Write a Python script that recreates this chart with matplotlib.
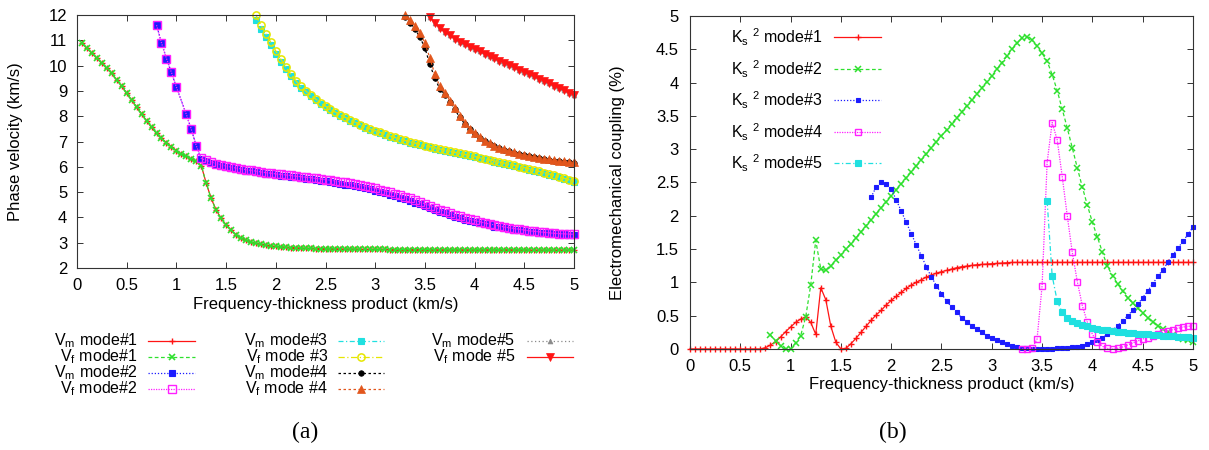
import matplotlib as mpl

mpl.use("Agg")
import matplotlib.pyplot as plt
import numpy as np

# frequency-thickness grid (km/s), sampled every 0.05
FH_STEP = 0.05
FH_TICKS = [0, 0.5, 1, 1.5, 2, 2.5, 3, 3.5, 4, 4.5, 5]
FH_TICK_LABELS = ["0", "0.5", "1", "1.5", "2", "2.5", "3", "3.5", "4", "4.5", "5"]
V_TICKS = [2, 3, 4, 5, 6, 7, 8, 9, 10, 11, 12]
K_TICKS = [0, 0.5, 1, 1.5, 2, 2.5, 3, 3.5, 4, 4.5, 5]
K_TICK_LABELS = ["0", "0.5", "1", "1.5", "2", "2.5", "3", "3.5", "4", "4.5", "5"]

# ---- panel (a): phase velocities (km/s) ----
vm_mode1_start = 0.05
vm_mode1 = [10.88, 10.68, 10.49, 10.29, 10.09, 9.89, 9.69, 9.43, 9.19, 8.90,
            8.64, 8.35, 8.09, 7.82, 7.56, 7.32, 7.12, 6.95, 6.79, 6.64,
            6.50, 6.41, 6.30, 6.21, 6.05, 5.35, 4.75, 4.29, 3.96, 3.70,
            3.50, 3.31, 3.18, 3.09, 3.02, 2.97, 2.93, 2.90, 2.87, 2.85,
            2.84, 2.82, 2.81, 2.80, 2.79, 2.78, 2.78, 2.77, 2.77, 2.76,
            2.76, 2.76, 2.75, 2.75, 2.75, 2.75, 2.74, 2.74, 2.74, 2.74,
            2.74, 2.74, 2.73, 2.73, 2.73, 2.73, 2.73, 2.73, 2.73, 2.73,
            2.73, 2.72, 2.72, 2.72, 2.72, 2.72, 2.72, 2.72, 2.72, 2.72,
            2.72, 2.72, 2.72, 2.72, 2.72, 2.72, 2.72, 2.72, 2.72, 2.72,
            2.71, 2.71, 2.71, 2.71, 2.71, 2.71, 2.71, 2.71, 2.71, 2.71]
vf_mode1_start = 0.05
vf_mode1 = [10.88, 10.68, 10.49, 10.29, 10.09, 9.89, 9.69, 9.43, 9.19, 8.90,
            8.64, 8.35, 8.09, 7.82, 7.56, 7.32, 7.12, 6.95, 6.79, 6.64,
            6.50, 6.41, 6.30, 6.21, 6.05, 5.35, 4.75, 4.29, 3.96, 3.70,
            3.50, 3.31, 3.18, 3.09, 3.02, 2.97, 2.93, 2.90, 2.87, 2.85,
            2.84, 2.82, 2.81, 2.80, 2.79, 2.78, 2.78, 2.77, 2.77, 2.76,
            2.76, 2.76, 2.75, 2.75, 2.75, 2.75, 2.74, 2.74, 2.74, 2.74,
            2.74, 2.74, 2.73, 2.73, 2.73, 2.73, 2.73, 2.73, 2.73, 2.73,
            2.73, 2.72, 2.72, 2.72, 2.72, 2.72, 2.72, 2.72, 2.72, 2.72,
            2.72, 2.72, 2.72, 2.72, 2.72, 2.72, 2.72, 2.72, 2.72, 2.72,
            2.71, 2.71, 2.71, 2.71, 2.71, 2.71, 2.71, 2.71, 2.71, 2.71]
vm_mode2_start = 0.80
vm_mode2 = [11.60, 10.90, 10.28, 9.73, 9.15, np.nan, 8.07, 7.48, 6.83,
            6.30, 6.22, 6.16, 6.10, 6.05, 6.00, 5.96, 5.92, 5.88, 5.85,
            5.82, 5.79, 5.76, 5.73, 5.70, 5.68,
            5.65, 5.63, 5.60, 5.58, 5.55, 5.53, 5.50, 5.48, 5.45, 5.42,
            5.39, 5.36, 5.33, 5.30, 5.27, 5.23, 5.19, 5.15, 5.11, 5.06,
            5.01, 4.96, 4.90, 4.84, 4.78, 4.72, 4.65, 4.58, 4.51, 4.44,
            4.37, 4.30, 4.23, 4.16, 4.09, 4.03, 3.97, 3.91, 3.86, 3.81,
            3.76, 3.72, 3.68, 3.64, 3.61, 3.57, 3.54, 3.51, 3.49, 3.46,
            3.44, 3.42, 3.40, 3.38, 3.37, 3.35, 3.34, 3.33, 3.32, 3.31]
vf_mode2_start = 0.80
vf_mode2 = [11.60, 10.90, 10.28, 9.73, 9.15, np.nan, 8.07, 7.48, 6.83,
            6.33, 6.25, 6.19, 6.13, 6.08, 6.03, 5.99, 5.95, 5.92, 5.89,
            5.86, 5.83, 5.80, 5.77, 5.75, 5.72,
            5.70, 5.68, 5.66, 5.63, 5.61, 5.59, 5.57, 5.54, 5.52, 5.49,
            5.47, 5.44, 5.41, 5.38, 5.35, 5.32, 5.28, 5.24, 5.20, 5.15,
            5.10, 5.05, 5.00, 4.94, 4.88, 4.82, 4.75, 4.68, 4.61, 4.54,
            4.47, 4.39, 4.31, 4.24, 4.17, 4.10, 4.04, 3.98, 3.93, 3.88,
            3.83, 3.78, 3.74, 3.70, 3.66, 3.62, 3.59, 3.56, 3.53, 3.50,
            3.47, 3.45, 3.43, 3.41, 3.39, 3.37, 3.36, 3.35, 3.34, 3.33]
vm_mode3_start = 1.80
vm_mode3 = [11.80, 11.45, 11.12, 10.80, 10.45,
            10.15, 9.85, 9.58, 9.33, 9.12, 8.94, 8.78, 8.63, 8.49, 8.36,
            8.24, 8.12, 8.02, 7.92, 7.82, 7.73, 7.64, 7.55, 7.47, 7.40,
            7.33, 7.26, 7.19, 7.13, 7.07, 7.02, 6.96, 6.91, 6.86, 6.82,
            6.77, 6.72, 6.68, 6.63, 6.59, 6.54, 6.50, 6.46, 6.42, 6.38,
            6.33, 6.29, 6.25, 6.20, 6.16, 6.12, 6.07, 6.03, 5.98, 5.94,
            5.89, 5.84, 5.79, 5.74, 5.69, 5.63, 5.58, 5.52, 5.46, 5.40]
vf_mode3_start = 1.80
vf_mode3 = [12.00, 11.60, 11.25, 10.92, 10.58,
            10.26, 9.95, 9.67, 9.41, 9.19, 9.00, 8.83, 8.68, 8.53, 8.40,
            8.28, 8.16, 8.05, 7.95, 7.85, 7.76, 7.67, 7.58, 7.50, 7.43,
            7.36, 7.29, 7.22, 7.16, 7.10, 7.04, 6.99, 6.94, 6.89, 6.84,
            6.80, 6.75, 6.71, 6.66, 6.62, 6.57, 6.53, 6.49, 6.45, 6.41,
            6.36, 6.32, 6.28, 6.23, 6.19, 6.15, 6.10, 6.06, 6.01, 5.97,
            5.92, 5.87, 5.82, 5.77, 5.72, 5.66, 5.61, 5.55, 5.49, 5.43]
vm_mode4_start = 3.30
vm_mode4 = [11.93, 11.70, 11.45, 11.12, 10.70, 10.05, 9.50, 9.08, 8.85, 8.57,
            8.27, 7.96, 7.70, 7.49, 7.30,
            7.14, 7.01, 6.91, 6.82, 6.74, 6.67, 6.61, 6.55, 6.50, 6.45,
            6.41, 6.37, 6.34, 6.30, 6.27, 6.24, 6.22, 6.20, 6.17, 6.15]
vf_mode4_start = 3.30
vf_mode4 = [12.00, 11.80, 11.58, 11.30, 10.90, 10.30, 9.65, 9.18, 8.92, 8.62,
            8.31, 7.99, 7.72, 7.51, 7.32,
            7.16, 7.03, 6.93, 6.84, 6.76, 6.69, 6.63, 6.57, 6.52, 6.47,
            6.43, 6.39, 6.36, 6.32, 6.29, 6.26, 6.24, 6.22, 6.19, 6.17]
vm_mode5_start = 3.55
vm_mode5 = [11.92, 11.70, 11.50, 11.34, 11.20, 11.07, 10.95, 10.84, 10.75, 10.66,
            10.56, 10.47, 10.38, 10.29, 10.20, 10.11, 10.02, 9.93, 9.84, 9.75,
            9.66, 9.57, 9.48, 9.39, 9.30, 9.20, 9.11, 9.02, 8.93, 8.84]
vf_mode5_start = 3.55
vf_mode5 = [11.92, 11.70, 11.50, 11.34, 11.20, 11.07, 10.95, 10.84, 10.75, 10.66,
            10.56, 10.47, 10.38, 10.29, 10.20, 10.11, 10.02, 9.93, 9.84, 9.75,
            9.66, 9.57, 9.48, 9.39, 9.30, 9.20, 9.11, 9.02, 8.93, 8.84]

# ---- panel (b): electromechanical coupling K_s^2 (%) ----
k2_mode1_start = 0.0
k2_mode1 = [0, 0, 0, 0, 0, 0, 0, 0, 0, 0, 0, 0, 0, 0, 0,
            0.02, 0.06, 0.11, 0.18, 0.26, 0.33,
            0.40, 0.45, 0.48, 0.40, 0.22, 0.92, 0.74, 0.34, 0.10, 0.00,
            0.01, 0.08, 0.16, 0.25, 0.34, 0.43, 0.51, 0.58, 0.66, 0.73,
            0.79, 0.85, 0.91, 0.96, 1.00, 1.04, 1.08, 1.11, 1.14, 1.16,
            1.18, 1.20, 1.22, 1.235, 1.245, 1.255, 1.265, 1.27, 1.275, 1.28,
            1.285, 1.29, 1.295, 1.30, 1.30, 1.30, 1.30, 1.30, 1.30, 1.30,
            1.30, 1.30, 1.30, 1.30, 1.30, 1.30, 1.30, 1.30, 1.30, 1.30,
            1.30, 1.30, 1.30, 1.30, 1.30, 1.30, 1.30, 1.30, 1.30, 1.30,
            1.30, 1.30, 1.30, 1.30, 1.30, 1.30, 1.30, 1.30, 1.30, 1.30]
k2_mode2_start = 0.80
k2_mode2 = [0.21, 0.12, 0.05, 0.00, 0.00,
            0.09, 0.20, 0.48, 0.96, 1.63, 1.20, 1.18, 1.25, 1.33, 1.41,
            1.50, 1.58, 1.67, 1.76, 1.85, 1.94, 2.03, 2.12, 2.21, 2.30,
            2.39, 2.48, 2.57, 2.66, 2.75, 2.84, 2.93, 3.02, 3.11, 3.20,
            3.29, 3.38, 3.47, 3.56, 3.65, 3.74, 3.83, 3.92, 4.01, 4.10,
            4.20, 4.30, 4.40, 4.50, 4.59, 4.67, 4.69, 4.64, 4.55, 4.44,
            4.32, 4.12, 3.88, 3.60, 3.32, 3.02, 2.72, 2.43, 2.16, 1.90,
            1.68, 1.45, 1.24, 1.10, 0.98, 0.87, 0.77, 0.69, 0.61, 0.54,
            0.47, 0.41, 0.35, 0.30, 0.25, 0.21, 0.18, 0.15, 0.13, 0.11]
k2_mode3_start = 1.80
k2_mode3 = [2.28, 2.43, 2.50, 2.48, 2.40,
            2.24, 2.07, 1.90, 1.73, 1.56, 1.40, 1.23, 1.08, 0.95, 0.83,
            0.72, 0.63, 0.55, 0.47, 0.41, 0.35, 0.30, 0.25, 0.20, 0.16,
            0.13, 0.10, 0.07, 0.05, 0.03, 0.02, 0.01, 0.005, 0.0, 0.0,
            0.0, 0.005, 0.01, 0.015, 0.02, 0.025, 0.035, 0.05, 0.07, 0.10,
            0.13, 0.17, 0.22, 0.28, 0.35, 0.42, 0.50, 0.58, 0.67, 0.77,
            0.87, 0.98, 1.09, 1.19, 1.30, 1.41, 1.51, 1.62, 1.72, 1.83]
k2_mode4_start = 3.30
k2_mode4 = [0.0, 0.0, 0.01, 0.15, 0.95,
            2.80, 3.40, 3.14, 2.59, 2.00, 1.45, 1.01, 0.65, 0.40, 0.22,
            0.10, 0.04, 0.01, 0.0, 0.01, 0.03, 0.06, 0.09, 0.12, 0.15,
            0.17, 0.20, 0.22, 0.25, 0.27, 0.29, 0.31, 0.33, 0.34, 0.35]
k2_mode5_start = 3.55
k2_mode5 = [2.22, 1.10, 0.72, 0.55, 0.47, 0.42, 0.39, 0.36, 0.34, 0.32,
            0.305, 0.29, 0.28, 0.27, 0.26, 0.25, 0.245, 0.24, 0.23, 0.225,
            0.22, 0.21, 0.205, 0.20, 0.195, 0.19, 0.185, 0.18, 0.175, 0.17]

LEFT_LABELS = [
    ["V$_\\mathrm{m}$ mode#1", "V$_\\mathrm{f}$ mode#1", "V$_\\mathrm{m}$ mode#2", "V$_\\mathrm{f}$ mode#2"],
    ["V$_\\mathrm{m}$ mode#3", "V$_\\mathrm{f}$ mode #3", "V$_\\mathrm{m}$ mode#4", "V$_\\mathrm{f}$ mode #4"],
    ["V$_\\mathrm{m}$ mode#5", "V$_\\mathrm{f}$ mode #5"],
]
RIGHT_LABELS = ["K$_\\mathrm{s}$ $^\\mathrm{2}$ mode#%d" % i for i in range(1, 6)]

RED = "#ff1414"
GREEN = "#2ee02e"
BLUE = "#1c1cff"
MAGENTA = "#ff20ff"
CYAN = "#20e0e0"
YELLOW = "#e6e600"
ORANGE = "#e2561c"
GRAY = "#8a8a8a"
FRAME = "#333333"
FS = 12
KEY_FS = 11.5

S_VM1 = dict(color=RED, ls="-", marker="+", ms=5, mew=1.0)
S_VF1 = dict(color=GREEN, ls=(0, (3, 2)), marker="x", ms=4.5, mew=1.2)
S_VM2 = dict(color=BLUE, ls=(0, (1, 1.5)), marker="s", ms=4.2, mew=0.8)
S_VF2 = dict(color=MAGENTA, ls=(0, (1, 1)), marker="s", ms=5.2, mfc="none", mew=1.0)
S_VM3 = dict(color=CYAN, ls=(0, (4, 2, 1, 2)), marker="s", ms=4.2, mew=0.8)
S_VF3 = dict(color=YELLOW, ls=(0, (5, 2, 1, 2)), marker="o", ms=5.2, mfc="none", mew=1.1)
S_VM4 = dict(color="black", ls=(0, (2, 2)), marker="o", ms=4, mew=0.5)
S_VF4 = dict(color=ORANGE, ls=(0, (2, 2)), marker="^", ms=5.2, mew=0.5)
S_VM5 = dict(color=GRAY, ls=(0, (1, 2)), marker="^", ms=3.5, mew=0.5)
S_VF5 = dict(color=RED, ls="-", marker="v", ms=6, mew=0.5)
S_K = [
    dict(color=RED, ls="-", marker="+", ms=5, mew=1.0),
    dict(color=GREEN, ls=(0, (3, 2)), marker="x", ms=4.5, mew=1.1),
    dict(color=BLUE, ls=(0, (1, 1.5)), marker="s", ms=3.4, mew=0.8),
    dict(color=MAGENTA, ls=(0, (1, 1)), marker="s", ms=4.8, mfc="none", mew=1.0),
    dict(color=CYAN, ls=(0, (4, 2, 1, 2)), marker="s", ms=4.0, mew=0.8),
]


def series_x(start, values):
    return np.round(start + FH_STEP * np.arange(len(values)), 2)


def draw(ax, start, values, style):
    x = series_x(start, values)
    y = np.asarray(values, dtype=float)
    ok = ~np.isnan(y)
    ax.plot(x[ok], y[ok], lw=0.9, clip_on=False, **style)


def style_axes(ax):
    for side in ax.spines.values():
        side.set_color(FRAME)
        side.set_linewidth(0.8)
    ax.tick_params(direction="in", top=True, right=True, length=4, width=0.7,
                   color=FRAME, labelsize=FS)


def key_entry(kx, text, x_text, x0, x1, y, style):
    kx.text(x_text, y, text, ha="right", va="center", fontsize=KEY_FS)
    kx.plot([x0, (x0 + x1) / 2, x1], [y, y, y], lw=0.9, markevery=[1], **style)


def main():
    plt.rcParams["font.family"] = ["Liberation Sans", "DejaVu Sans"]
    plt.rcParams["mathtext.fontset"] = "custom"
    plt.rcParams["mathtext.rm"] = "Liberation Sans"
    plt.rcParams["mathtext.it"] = "Liberation Sans:italic"

    W, H = 1209, 450
    fig = plt.figure(figsize=(W / 100, H / 100), dpi=100)

    # panel (a)
    ax1 = fig.add_axes([77 / W, (H - 268) / H, (574 - 77) / W, (268 - 15) / H])
    draw(ax1, vm_mode1_start, vm_mode1, S_VM1)
    draw(ax1, vf_mode1_start, vf_mode1, S_VF1)
    draw(ax1, vm_mode2_start, vm_mode2, S_VM2)
    draw(ax1, vf_mode2_start, vf_mode2, S_VF2)
    draw(ax1, vm_mode3_start, vm_mode3, S_VM3)
    draw(ax1, vf_mode3_start, vf_mode3, S_VF3)
    draw(ax1, vm_mode4_start, vm_mode4, S_VM4)
    draw(ax1, vf_mode4_start, vf_mode4, S_VF4)
    draw(ax1, vm_mode5_start, vm_mode5, S_VM5)
    draw(ax1, vf_mode5_start, vf_mode5, S_VF5)
    ax1.set_xlim(0, 5)
    ax1.set_ylim(2, 12)
    ax1.set_xticks(FH_TICKS, FH_TICK_LABELS)
    ax1.set_yticks(V_TICKS, [str(v) for v in V_TICKS])
    style_axes(ax1)
    ax1.tick_params(axis="x", pad=7)
    ax1.tick_params(axis="y", pad=7)
    ax1.set_xlabel("Frequency-thickness product (km/s)", fontsize=FS)
    ax1.set_ylabel("Phase velocity (km/s)", fontsize=FS)
    ax1.xaxis.set_label_coords(0.5, -0.115)
    ax1.yaxis.set_label_coords(-0.108, 0.5)

    # panel (b)
    ax2 = fig.add_axes([690 / W, (H - 349) / H, (1193 - 690) / W, (349 - 16) / H])
    k_series = [(k2_mode1_start, k2_mode1), (k2_mode2_start, k2_mode2),
                (k2_mode3_start, k2_mode3), (k2_mode4_start, k2_mode4),
                (k2_mode5_start, k2_mode5)]
    for (start, vals), st in zip(k_series, S_K):
        draw(ax2, start, vals, st)
    ax2.set_xlim(0, 5)
    ax2.set_ylim(0, 5)
    ax2.set_xticks(FH_TICKS, FH_TICK_LABELS)
    ax2.set_yticks(K_TICKS, K_TICK_LABELS)
    style_axes(ax2)
    ax2.tick_params(axis="x", pad=7)
    ax2.tick_params(axis="y", pad=8)
    ax2.set_xlabel("Frequency-thickness product (km/s)", fontsize=FS)
    ax2.set_ylabel("Electromechanical coupling (%)", fontsize=FS)
    ax2.xaxis.set_label_coords(0.5, -0.085)
    ax2.yaxis.set_label_coords(-0.13, 0.5)

    # overlay in pixel coordinates for the gnuplot-style keys and panel tags
    kx = fig.add_axes([0, 0, 1, 1], facecolor="none")
    kx.set_xlim(0, W)
    kx.set_ylim(H, 0)
    kx.axis("off")

    rows = [341, 357, 373, 389]
    cols = [(138, 148, 195), (328, 338, 384), (515, 527, 573)]
    left_styles = [[S_VM1, S_VF1, S_VM2, S_VF2], [S_VM3, S_VF3, S_VM4, S_VF4], [S_VM5, S_VF5]]
    for (xt, x0, x1), labels, styles in zip(cols, LEFT_LABELS, left_styles):
        for y, lab, st in zip(rows, labels, styles):
            key_entry(kx, lab, xt, x0, x1, y, st)

    for y, lab, st in zip([37, 69, 100, 132, 163], RIGHT_LABELS, S_K):
        key_entry(kx, lab, 823, 834, 881, y, st)

    kx.text(305, 432, "(a)", ha="center", va="center", fontsize=17, family="Liberation Serif")
    kx.text(893, 432, "(b)", ha="center", va="center", fontsize=17, family="Liberation Serif")

    fig.savefig("out.png", dpi=100, facecolor="white")
    plt.close(fig)


if __name__ == "__main__":
    main()
